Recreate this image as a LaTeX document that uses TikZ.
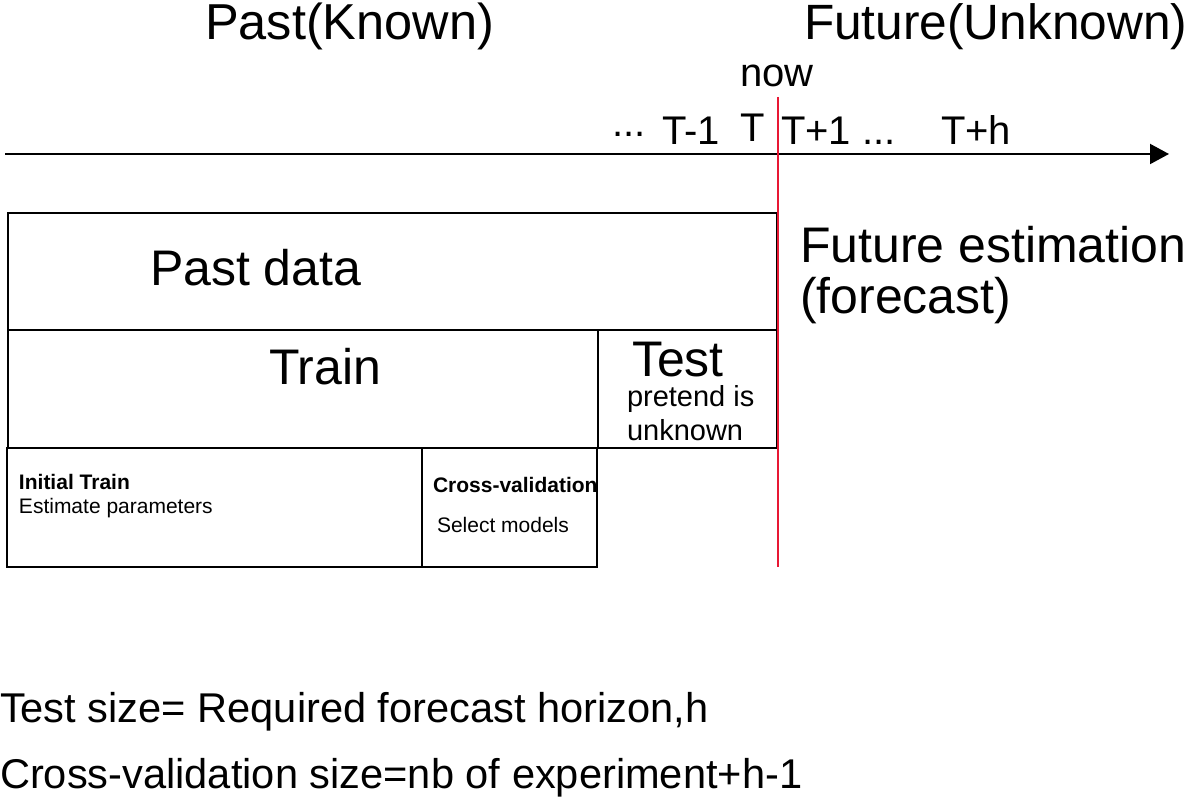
\documentclass[tikz,border=0pt]{standalone}
\usepackage{fontspec}
\setmainfont{Liberation Sans}
\usetikzlibrary{arrows.meta}
\definecolor{nowred}{RGB}{232,24,52}
\begin{document}
\begin{tikzpicture}[x=1pt,y=-1pt,
  box/.style={draw=black,line width=2.4pt},
  lbl/.style={anchor=base west,inner sep=0pt,outer sep=0pt},
  big/.style={lbl,font=\fontsize{50}{55}\selectfont},
  mid/.style={lbl,font=\fontsize{40}{44}\selectfont},
  sml/.style={lbl,font=\fontsize{29}{32}\selectfont},
  tiny/.style={lbl,font=\fontsize{21}{24}\selectfont},
  tinyb/.style={lbl,font=\bfseries\fontsize{21}{24}\selectfont},
  foot/.style={lbl,font=\fontsize{41.6}{45}\selectfont}]
\useasboundingbox (0,0) rectangle (1189,799);
% timeline
\coordinate (axA) at (5,154);
\coordinate (axB) at (1169,154);
\draw[line width=2pt,-{Triangle[length=19pt,width=20pt]}] (axA) -- (axB);
% boxes
\draw[box] (8,213) rectangle (777,330);
\draw[box] (8,330) rectangle (598,448);
\draw[box] (598,330) rectangle (777,448);
\draw[box] (7,448) rectangle (422,567);
\draw[box] (422,448) rectangle (597,567);
% now line
\coordinate (nowA) at (778,97);
\coordinate (nowB) at (778,567);
\draw[nowred,line width=2pt] (nowA) -- (nowB);
% titles
\node[big,font=\fontsize{50.5}{55}\selectfont] (past) at (205,40) {Past(Known)};
\node[big,font=\fontsize{49.6}{55}\selectfont] (future) at (804,40) {Future(Unknown)};
\node[mid] (now) at (740,87) {now};
\node[mid] (dots1) at (612,137) {...};
\node[mid] (tm1) at (662,145) {T-1};
\node[mid] (t) at (740,142) {T};
\node[mid] (tp1) at (781,145) {T+1 ...};
\node[mid] (tph) at (941,145) {T+h};
% box texts
\node[big] (pastdata) at (150,286) {Past data};
\node[big] (train) at (269,385) {Train};
\node[big] (test) at (632,377) {Test};
\node[sml] (pretend) at (627,407) {pretend is};
\node[sml] (unknown) at (627,441) {unknown};
\node[tinyb] (init) at (19,489) {Initial Train};
\node[tiny] (est) at (19,513) {Estimate parameters};
\node[tinyb] (cv) at (433,493) {Cross-validation};
\node[tiny] (sel) at (437,532) {Select models};
\node[big] (fe1) at (800,263) {Future estimation};
\node[big] (fe2) at (800,314) {(forecast)};
% footer
\node[foot] (f1) at (0,722) {Test size= Required forecast horizon,h};
\node[foot] (f2) at (0,788) {Cross-validation size=nb of experiment+h-1};
\end{tikzpicture}
\end{document}
